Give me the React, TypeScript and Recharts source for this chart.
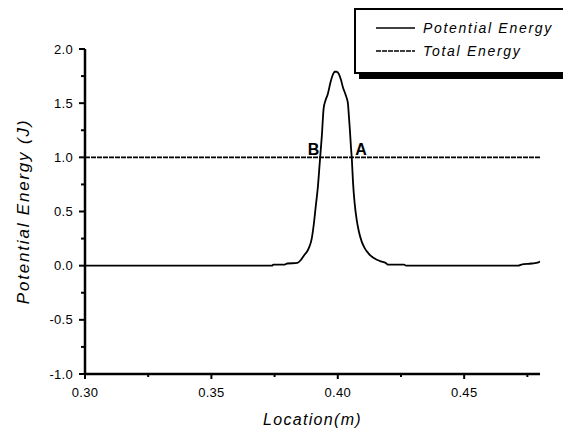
import { LineChart, Line, XAxis, YAxis, Legend, ReferenceDot, ReferenceLine } from "recharts";

const FONT = "'Liberation Sans', Arial, Helvetica, sans-serif";

// potential energy curve
const location = [
  0.3, 0.374, 0.3745, 0.379, 0.38, 0.384, 0.3853, 0.3865, 0.3885, 0.3897,
  0.3905, 0.3913, 0.3921, 0.3929, 0.3937, 0.3944, 0.3952, 0.396, 0.3972, 0.398,
  0.3988, 0.3996, 0.4004, 0.4012, 0.402, 0.4032, 0.404, 0.4044, 0.4048, 0.4052,
  0.4056, 0.406, 0.4067, 0.4075, 0.4083, 0.4095, 0.4107, 0.4119, 0.4131, 0.4143,
  0.4159, 0.4171, 0.419, 0.4198, 0.4262, 0.427, 0.4714, 0.4726, 0.4766, 0.4794,
  0.48,
];
const potentialEnergy = [
  0, 0, 0.01, 0.01, 0.02, 0.025, 0.05, 0.09, 0.16, 0.25,
  0.38, 0.55, 0.72, 0.96, 1.2, 1.45, 1.53, 1.58, 1.7, 1.76,
  1.79, 1.79, 1.77, 1.72, 1.65, 1.57, 1.5, 1.38, 1.25, 1.1,
  0.97, 0.78, 0.57, 0.42, 0.32, 0.22, 0.16, 0.12, 0.09, 0.07,
  0.05, 0.04, 0.025, 0.01, 0.01, 0, 0, 0.01, 0.02, 0.03,
  0.04,
];

const totalLocation = [0.3, 0.48];
const totalEnergy = [1.0, 1.0];

const xDomain = [0.3, 0.48];
const yDomain = [-1, 2];
const xMajorTicks = [0.3, 0.35, 0.4, 0.45];
const xMinorTicks = [0.325, 0.375, 0.425, 0.475];
const yMajorTicks = [-1, -0.5, 0, 0.5, 1, 1.5, 2];
const yMinorTicks = [-0.75, -0.25, 0.25, 0.75, 1.25, 1.75];

const markLabels = ["B", "A"];
const markLocation = [0.3904, 0.4092];
const markEnergy = [1.0, 1.0];

const potentialData = location.map((x, i) => ({ location: x, potential: potentialEnergy[i] }));
const totalData = totalLocation.map((x, i) => ({ location: x, total: totalEnergy[i] }));

const DASH = "5 1";

const isIn = (arr: number[], v: number) => arr.some((a) => Math.abs(a - v) < 1e-9);

function XTick(props: any) {
  const { x, y, payload } = props;
  const major = isIn(xMajorTicks, payload.value);
  return (
    <g>
      <line x1={x} y1={y} x2={x} y2={y + (major ? 5 : 3)} stroke="#000" strokeWidth={2} />
      {major && (
        <text x={x} y={y + 22.5} textAnchor="middle" fontFamily={FONT} fontSize={13} letterSpacing={0.3} fill="#000">
          {payload.value.toFixed(2)}
        </text>
      )}
    </g>
  );
}

function YTick(props: any) {
  const { x, y, payload } = props;
  const major = isIn(yMajorTicks, payload.value);
  return (
    <g>
      <line x1={x} y1={y} x2={x - (major ? 6 : 4)} y2={y} stroke="#000" strokeWidth={2} />
      {major && (
        <text x={x - 12} y={y + 4.6} textAnchor="end" fontFamily={FONT} fontSize={13} letterSpacing={0.3} fill="#000">
          {payload.value.toFixed(1)}
        </text>
      )}
    </g>
  );
}

function LegendBox({ payload }: any) {
  const items = payload || [];
  return (
    <div
      style={{
        width: 209,
        height: 62,
        border: "2px solid #000",
        boxShadow: "5px 5px 0 #000",
        background: "#fff",
      }}
    >
      <svg width={209} height={62} style={{ display: "block" }}>
        {items.map((p: any, i: number) => {
          const ly = 18 + i * 23;
          return (
            <g key={p.value}>
              <line
                x1={20}
                x2={59}
                y1={ly}
                y2={ly}
                stroke="#000"
                strokeWidth={1.6}
                strokeDasharray={i === 1 ? DASH : undefined}
              />
              <text x={67} y={ly + 5} fontFamily={FONT} fontStyle="italic" fontSize={14} letterSpacing={1.7} fill="#000">
                {p.value}
              </text>
            </g>
          );
        })}
      </svg>
    </div>
  );
}

export default function App() {
  return (
    <LineChart width={563} height={424} margin={{ top: 41, right: 31, left: 0, bottom: 0 }}>
      <XAxis
        dataKey="location"
        type="number"
        domain={xDomain}
        ticks={[...xMajorTicks, ...xMinorTicks].sort((a, b) => a - b)}
        allowDataOverflow
        height={58}
        tickSize={0}
        tickMargin={0}
        tick={<XTick />}
        tickLine={false}
        axisLine={false}
        interval={0}
        label={{
          value: "Location(m)",
          position: "insideBottom",
          offset: 7,
          style: { fontFamily: FONT, fontStyle: "italic", fontSize: 16, letterSpacing: 1.3, fill: "#000" },
        }}
      />
      <YAxis
        type="number"
        domain={yDomain}
        ticks={[...yMajorTicks, ...yMinorTicks].sort((a, b) => a - b)}
        allowDataOverflow
        width={77}
        tickSize={0}
        tickMargin={0}
        tick={<YTick />}
        tickLine={false}
        axisLine={false}
        interval={0}
        label={{
          value: "Potential Energy (J)",
          angle: -90,
          position: "insideLeft",
          offset: 15,
          style: { fontFamily: FONT, fontStyle: "italic", fontSize: 17, letterSpacing: 1.8, fill: "#000", textAnchor: "middle" },
        }}
      />
      {/* axis lines drawn heavier than the default axis stroke */}
      <ReferenceLine x={xDomain[0]} stroke="#000" strokeWidth={2.5} ifOverflow="visible" />
      <ReferenceLine y={yDomain[0]} stroke="#000" strokeWidth={2.5} ifOverflow="visible" />
      <Line
        data={potentialData}
        dataKey="potential"
        name="Potential Energy"
        type="monotone"
        stroke="#000"
        strokeWidth={1.8}
        dot={false}
        activeDot={false}
        isAnimationActive={false}
      />
      <Line
        data={totalData}
        dataKey="total"
        name="Total Energy"
        type="linear"
        stroke="#000"
        strokeWidth={1.6}
        strokeDasharray={DASH}
        dot={false}
        activeDot={false}
        isAnimationActive={false}
      />
      {markLabels.map((t, i) => (
        <ReferenceDot
          key={t}
          x={markLocation[i]}
          y={markEnergy[i]}
          r={0}
          fill="none"
          stroke="none"
          label={{
            value: t,
            position: "top",
            offset: 2,
            style: { fontFamily: FONT, fontWeight: "bold", fontSize: 16, fill: "#000" },
          }}
        />
      ))}
      <Legend
        layout="vertical"
        align="center"
        verticalAlign="middle"
        content={<LegendBox />}
        wrapperStyle={{ left: 346, top: 0, width: "auto", height: "auto" }}
      />
    </LineChart>
  );
}
